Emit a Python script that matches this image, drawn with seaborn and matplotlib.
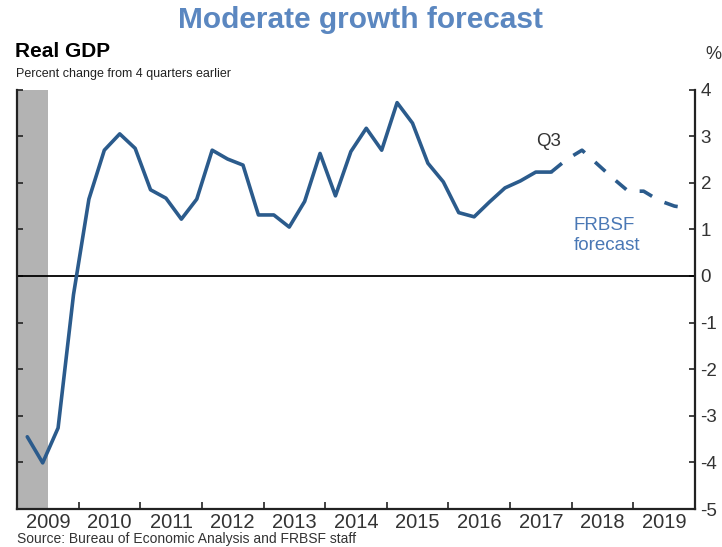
import matplotlib
matplotlib.use("Agg")
import matplotlib.pyplot as plt
import seaborn as sns
import pandas as pd
import numpy as np

# ---------------- data ----------------
start_year = 2009
actual_values = [-3.45, -4.01, -3.26, -0.4,
                 1.65, 2.7, 3.05, 2.74,
                 1.85, 1.67, 1.22, 1.65,
                 2.7, 2.51, 2.38, 1.31,
                 1.31, 1.05, 1.6, 2.63,
                 1.72, 2.67, 3.17, 2.7,
                 3.72, 3.28, 2.42, 2.02,
                 1.36, 1.27, 1.59, 1.89,
                 2.04, 2.23, 2.23]
forecast_start = (2017, 3)
forecast_values = [2.23, 2.5, 2.7, 2.4, 2.1, 1.82, 1.82, 1.62, 1.5, 1.45]
year_labels = [str(y) for y in range(2009, 2020)]
y_ticks = [4, 3, 2, 1, 0, -1, -2, -3, -4, -5]
recession = (2009.0, 2009.5)


def quarter_pos(year, q):
    return year + (3 * q - 1) / 12.0


def quarter_seq(year, q, n):
    out = []
    for _ in range(n):
        out.append(quarter_pos(year, q))
        q += 1
        if q > 4:
            q = 1
            year += 1
    return out


df_act = pd.DataFrame({"x": quarter_seq(start_year, 1, len(actual_values)),
                       "value": actual_values})
df_fc = pd.DataFrame({"x": quarter_seq(*forecast_start, len(forecast_values)),
                      "value": forecast_values})

# ---------------- style ----------------
sns.set_style("white")
plt.rcParams["font.family"] = ["Liberation Sans", "DejaVu Sans"]
plt.rcParams["lines.scale_dashes"] = False

line_color = "#2b5b8c"
fig = plt.figure(figsize=(7.22, 5.47), dpi=100)
ax = fig.add_axes([17 / 722, 1 - 509 / 547, (695 - 17) / 722, (509 - 89.6) / 547])

ax.axvspan(*recession, color="#b3b3b3", lw=0, zorder=0)
ax.axhline(0, color="black", lw=1.3, zorder=1)

sns.lineplot(data=df_act, x="x", y="value", ax=ax, color=line_color,
             lw=2.6, zorder=3, legend=False)
sns.lineplot(data=df_fc, x="x", y="value", ax=ax, color=line_color,
             lw=2.6, zorder=3, legend=False, dashes=False)
ax.lines[-1].set_dashes([10, 10])

ax.set_xlim(2009.0, 2020.0)
ax.set_ylim(-5, 4)
ax.set_xlabel("")
ax.set_ylabel("")

# spines
for s in ["left", "right", "bottom"]:
    ax.spines[s].set_visible(True)
    ax.spines[s].set_color("#222222")
    ax.spines[s].set_linewidth(1.6)
ax.spines["top"].set_visible(False)

# y ticks on right
ax.set_yticks(y_ticks)
ax.set_yticklabels([str(v) for v in y_ticks])
ax.tick_params(axis="y", which="major", left=True, right=True,
               labelleft=False, labelright=True, direction="in",
               length=4, width=1.2, color="#222222", pad=4,
               labelsize=13.5, labelcolor="#333333")

# x ticks: boundaries major, labels minor
ax.set_xticks(range(2010, 2020))
ax.set_xticklabels([])
ax.set_xticks([int(y) + 0.5 for y in year_labels], minor=True)
ax.set_xticklabels(year_labels, minor=True)
ax.tick_params(axis="x", which="major", bottom=True, direction="in",
               length=5, width=1.2, color="#222222")
ax.tick_params(axis="x", which="minor", bottom=True, length=0, pad=3,
               labelsize=14.5, labelcolor="#333333")

# ---------------- text ----------------
fig.text(0.5, 1 - 20 / 547, "Moderate growth forecast", ha="center",
         va="center", fontsize=21.5, fontweight="bold", color="#5b87c0")
fig.text(15 / 722, 1 - 57 / 547, "Real GDP", ha="left", va="baseline",
         fontsize=15, fontweight="bold", color="black")
fig.text(16 / 722, 1 - 77 / 547, "Percent change from 4 quarters earlier",
         ha="left", va="baseline", fontsize=9, color="#222222")
fig.text(705 / 722, 1 - 59 / 547, "%", ha="left", va="baseline",
         fontsize=13, color="#333333")
fig.text(17 / 722, 1 - 543 / 547,
         "Source: Bureau of Economic Analysis and FRBSF staff",
         ha="left", va="baseline", fontsize=10, color="#333333")

ax.text(2017.62, 2.78, "Q3", ha="center", va="baseline", fontsize=13.5,
        color="#333333")
ax.text(2018.03, 0.99, "FRBSF", ha="left", va="baseline",
        fontsize=13.5, color="#4a78b5")
ax.text(2018.03, 0.56, "forecast", ha="left", va="baseline",
        fontsize=13.5, color="#4a78b5")

fig.savefig("out.png", dpi=100)
